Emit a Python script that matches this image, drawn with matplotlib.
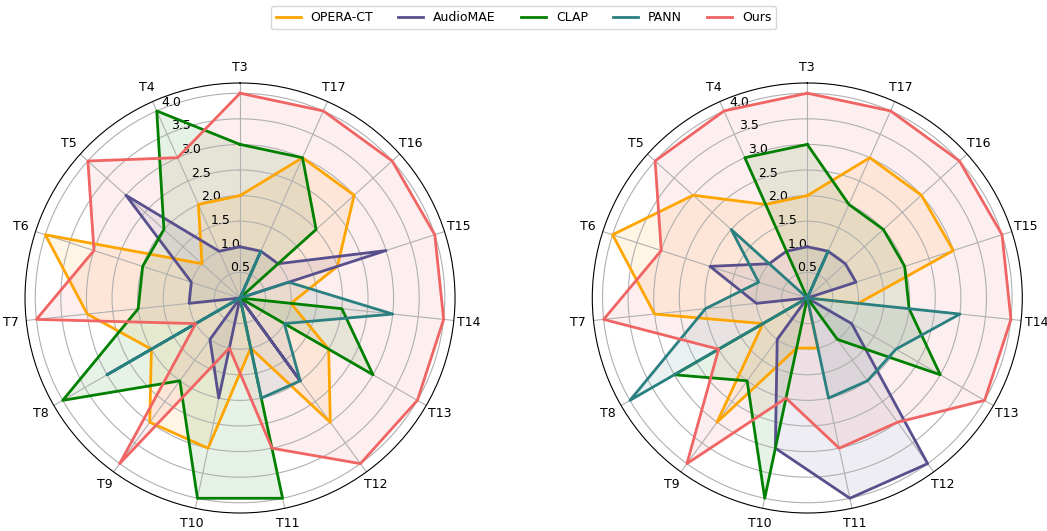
import numpy as np
import matplotlib
matplotlib.use("Agg")
import matplotlib.pyplot as plt

plt.rcParams['font.size'] = 9

tasks = ['T3', 'T4', 'T5', 'T6', 'T7', 'T8', 'T9', 'T10',
         'T11', 'T12', 'T13', 'T14', 'T15', 'T16', 'T17']
models = ['OPERA-CT', 'AudioMAE', 'CLAP', 'PANN', 'Ours']
colors = ['#ffa500', '#58508d', '#008000', '#2a7f80', '#f06464']

# scores per task, left panel
left_opera = [2, 2, 1, 4, 3, 2, 3, 3, 1, 3, 2, 1, 2, 3, 3]
left_audiomae = [1, 1, 3, 1, 1, 0, 1, 2, 0, 2, 0, 0, 3, 1, 1]
left_clap = [3, 4, 2, 2, 2, 4, 2, 4, 4, 0, 3, 2, 0, 2, 3]
left_pann = [0, 0, 0, 0, 0, 3, 0, 0, 2, 2, 1, 3, 1, 0, 1]
left_ours = [4, 3, 4, 3, 4, 1, 4, 1, 3, 4, 4, 4, 4, 4, 4]

# scores per task, right panel
right_opera = [2, 2, 3, 4, 3, 1, 3, 1, 1, 0, 0, 1, 3, 3, 3]
right_audiomae = [1, 1, 1, 2, 1, 0, 1, 3, 4, 4, 1, 0, 1, 1, 1]
right_clap = [3, 3, 0, 0, 0, 3, 2, 4, 0, 1, 3, 2, 2, 2, 2]
right_pann = [0, 0, 2, 1, 2, 4, 0, 0, 2, 2, 2, 3, 0, 0, 1]
right_ours = [4, 4, 4, 3, 4, 2, 4, 2, 3, 3, 4, 4, 4, 4, 4]

panels = [
    [left_opera, left_audiomae, left_clap, left_pann, left_ours],
    [right_opera, right_audiomae, right_clap, right_pann, right_ours],
]

angles = np.linspace(0, 2 * np.pi, len(tasks), endpoint=False)
closed = np.concatenate([angles, angles[:1]])

fig = plt.figure(figsize=(10.47, 5.31), dpi=100)
boxes = [[0.0239, 0.0339, 0.4107, 0.8098], [0.5657, 0.0339, 0.4107, 0.8098]]

for box, series in zip(boxes, panels):
    ax = fig.add_axes(box, projection='polar')
    ax.set_theta_offset(np.pi / 2)
    ax.set_theta_direction(1)
    for vals, name, c in zip(series, models, colors):
        v = np.concatenate([vals, vals[:1]])
        ax.plot(closed, v, color=c, linewidth=2, label=name)
        ax.fill(closed, v, color=c, alpha=0.1)
    ax.set_xticks(angles)
    ax.set_xticklabels(tasks)
    ax.tick_params(axis='x', pad=0.5)
    ax.set_ylim(0, 4.2)
    ax.set_yticks([0.5, 1.0, 1.5, 2.0, 2.5, 3.0, 3.5, 4.0])
    ax.set_yticklabels(['0.5', '1.0', '1.5', '2.0', '2.5', '3.0', '3.5', '4.0'])

handles, labels = ax.get_legend_handles_labels()
fig.legend(handles, labels, loc='upper center', ncol=5,
           bbox_to_anchor=(0.5, 1.0))

fig.savefig('out.png', dpi=100)
